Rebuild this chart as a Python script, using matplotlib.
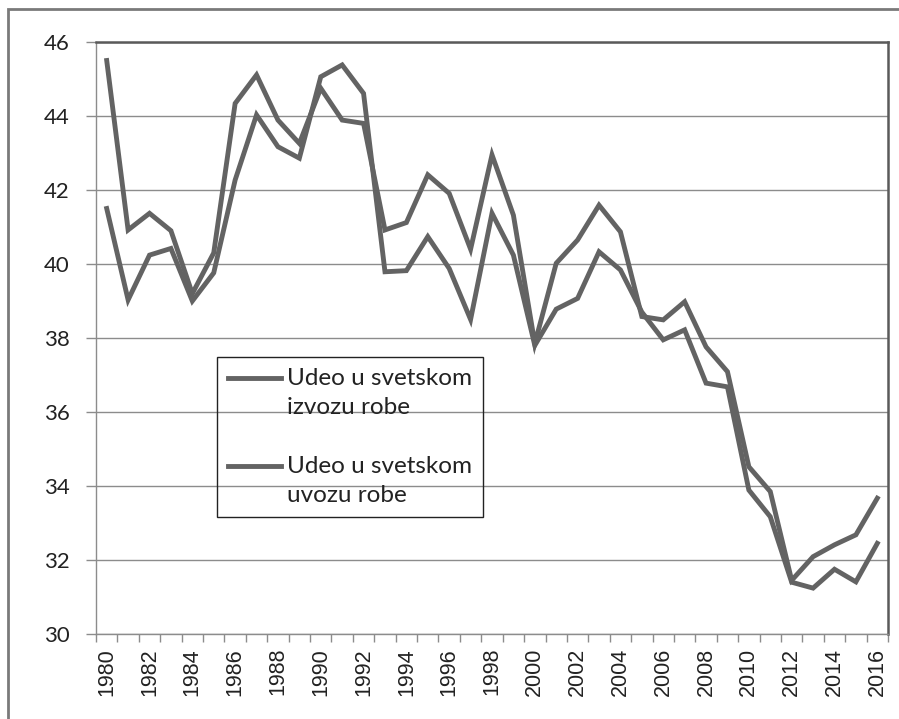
import matplotlib
matplotlib.use("Agg")
import matplotlib.pyplot as plt
from matplotlib.patches import Rectangle
from matplotlib.legend_handler import HandlerLine2D

years = list(range(1980, 2017))
izvoz = [45.50, 40.92, 41.37, 40.90, 39.20, 40.30, 44.34, 45.11, 43.89, 43.26,
         44.75, 43.89, 43.80, 40.92, 41.12, 42.41, 41.91, 40.40, 42.95, 41.32,
         37.85, 40.02, 40.65, 41.59, 40.87, 38.58, 38.49, 38.98, 37.76, 37.09,
         34.52, 33.85, 31.45, 32.09, 32.41, 32.68, 33.67]
uvoz = [41.50, 39.03, 40.24, 40.42, 39.00, 39.76, 42.27, 44.03, 43.17, 42.86,
        45.06, 45.38, 44.61, 39.79, 39.82, 40.74, 39.88, 38.50, 41.37, 40.24,
        37.80, 38.78, 39.07, 40.33, 39.84, 38.70, 37.95, 38.22, 36.78, 36.68,
        33.89, 33.17, 31.40, 31.24, 31.75, 31.41, 32.45]
series_labels = ["Udeo u svetskom\nizvozu robe", "Udeo u svetskom\nuvozu robe"]
y_ticks = [30, 32, 34, 36, 38, 40, 42, 44, 46]


class HandlerFirstLine(HandlerLine2D):
    """Place the legend line next to the first line of a two-line label."""
    def create_artists(self, legend, orig_handle, xdescent, ydescent,
                       width, height, fontsize, trans):
        artists = super().create_artists(legend, orig_handle, xdescent,
                                         ydescent, width, height, fontsize,
                                         trans)
        shift = 0.6 * fontsize
        for a in artists:
            a.set_ydata([v + shift for v in a.get_ydata()])
        return artists


W, H = 899, 719
fig = plt.figure(figsize=(W / 100, H / 100), dpi=100)
fig.patch.set_facecolor("white")

# outer chart border (right and bottom edges lie outside the image)
fig.patches.append(Rectangle((8 / W, -0.05), 1.05, (H - 9) / H + 0.05,
                             transform=fig.transFigure, fill=False,
                             edgecolor="#7a7a7a", linewidth=2))

L, R, T, B = 96, 888, 42, 634
ax = fig.add_axes([L / W, (H - B) / H, (R - L) / W, (B - T) / H])

x = list(range(len(years)))
line_color = "#636363"
l1, = ax.plot(x, izvoz, color=line_color, linewidth=3.5, label=series_labels[0],
              solid_joinstyle="miter", zorder=3)
l2, = ax.plot(x, uvoz, color=line_color, linewidth=3.5, label=series_labels[1],
              solid_joinstyle="miter", zorder=3)

ax.set_xlim(-0.5, len(years) - 0.5)
ax.set_ylim(30, 46)
ax.set_yticks(y_ticks)
ax.set_yticklabels([str(v) for v in y_ticks], fontfamily="Lato", fontsize=16,
                   color="#222222")
ax.yaxis.grid(True, color="#8c8c8c", linewidth=1.0)
ax.set_axisbelow(True)

ax.set_xticks([i - 0.5 for i in range(len(years) + 1)], minor=True)
ax.set_xticks(x[::2])
ax.set_xticklabels([str(y) for y in years[::2]], rotation=90,
                   fontfamily="Liberation Sans", fontsize=15.5, color="#222222")
ax.tick_params(axis="x", which="major", length=0, pad=10)
ax.tick_params(axis="x", which="minor", length=6, color="#8c8c8c", width=1,
               direction="out")
ax.tick_params(axis="y", length=7, color="#8c8c8c", width=1, direction="out",
               pad=12)

for s in ["left", "bottom"]:
    ax.spines[s].set_color("#8c8c8c")
    ax.spines[s].set_linewidth(1.0)
for s in ["top", "right"]:
    ax.spines[s].set_color("#5a5a5a")
    ax.spines[s].set_linewidth(1.8)

leg = ax.legend(handles=[l1, l2], loc="upper left",
                bbox_to_anchor=((217 - L) / (R - L), (B - 357) / (B - T)),
                frameon=True, fancybox=False, framealpha=1.0,
                prop={"family": "Lato", "size": 17.5},
                handlelength=2.2, handletextpad=0.25, labelspacing=1.55,
                borderpad=0.45, borderaxespad=0,
                handler_map={l1: HandlerFirstLine(), l2: HandlerFirstLine()})
leg.get_frame().set_facecolor("none")
leg.get_frame().set_edgecolor("#222222")
leg.get_frame().set_linewidth(1.0)
for t in leg.get_texts():
    t.set_color("#222222")
    t.set_linespacing(1.47)

fig.savefig("out.png", dpi=100)
